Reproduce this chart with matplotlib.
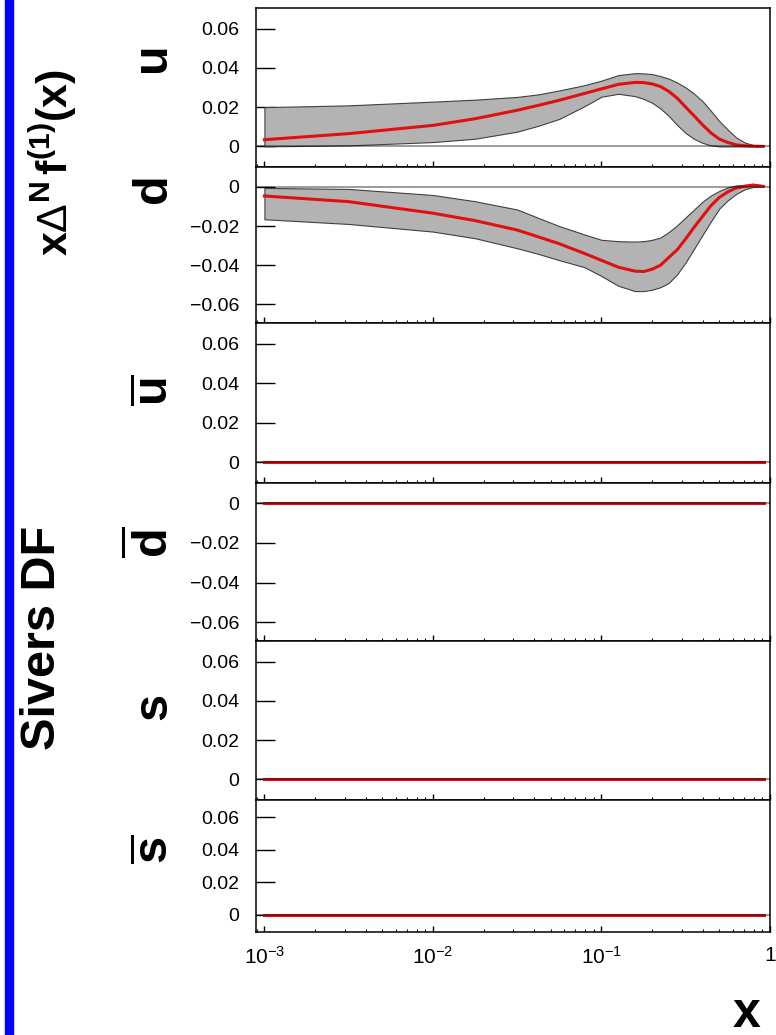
import matplotlib.pyplot as plt
import numpy as np
from matplotlib.patches import Rectangle
from matplotlib.ticker import FixedLocator, FixedFormatter, LogLocator, NullFormatter

plt.rcParams['font.family'] = 'Liberation Sans'
plt.rcParams['mathtext.fontset'] = 'custom'
plt.rcParams['mathtext.rm'] = 'Liberation Sans'
plt.rcParams['mathtext.it'] = 'Liberation Sans:italic'
plt.rcParams['mathtext.bf'] = 'Liberation Sans:bold'

# x grid of the fitted curves
x_fit = [0.001, 0.00316, 0.01, 0.0178, 0.0316, 0.0422, 0.0562, 0.0794, 0.1, 0.126,
         0.158, 0.178, 0.2, 0.224, 0.251, 0.282, 0.316, 0.355, 0.398, 0.447,
         0.501, 0.562, 0.631, 0.708, 0.794, 0.912]

# u quark: central value and error band
u_mid = [0.0034, 0.0065, 0.0107, 0.0141, 0.0184, 0.0209, 0.0235, 0.0270, 0.0293, 0.0316,
         0.0326, 0.0325, 0.0318, 0.0305, 0.0280, 0.0245, 0.0200, 0.0155, 0.0110, 0.0068,
         0.0037, 0.0020, 0.0008, 0.0003, 0.0001, 0.0]
u_hi = [0.0200, 0.0209, 0.0228, 0.0238, 0.0252, 0.0265, 0.0285, 0.0312, 0.0335, 0.0363,
        0.0373, 0.0372, 0.0368, 0.0358, 0.0345, 0.0325, 0.0300, 0.0268, 0.0230, 0.0180,
        0.0128, 0.0085, 0.0045, 0.0020, 0.0007, 0.0]
u_lo = [0.0, 0.0005, 0.0022, 0.0039, 0.0075, 0.0105, 0.0140, 0.0205, 0.0253, 0.0268,
        0.0256, 0.0242, 0.0222, 0.0193, 0.0155, 0.0108, 0.0068, 0.0038, 0.0018, 0.0005,
        0.0, 0.0, 0.0, 0.0, 0.0, 0.0]

# d quark
d_mid = [-0.0046, -0.0075, -0.0134, -0.0172, -0.0220, -0.0255, -0.0290, -0.0340, -0.0375, -0.0410,
         -0.0430, -0.0432, -0.0420, -0.0400, -0.0360, -0.0320, -0.0265, -0.0205, -0.0150, -0.0095,
         -0.0053, -0.0025, -0.0005, 0.0004, 0.0010, 0.0003]
d_hi = [-0.0005, -0.0010, -0.0041, -0.0073, -0.0115, -0.0158, -0.0200, -0.0243, -0.0270, -0.0277,
        -0.0279, -0.0277, -0.0270, -0.0258, -0.0230, -0.0195, -0.0155, -0.0115, -0.0075, -0.0043,
        -0.0020, -0.0002, 0.0008, 0.0010, 0.0010, 0.0010]
d_lo = [-0.0165, -0.0189, -0.0228, -0.0262, -0.0313, -0.0342, -0.0374, -0.0410, -0.0455, -0.0505,
        -0.0532, -0.0532, -0.0525, -0.0512, -0.0490, -0.0445, -0.0385, -0.0315, -0.0245, -0.0175,
        -0.0110, -0.0068, -0.0035, -0.0012, 0.0, 0.0005]

# sea quarks: compatible with zero
x_sea = [0.001, 0.92]
sea_zero = [0.0, 0.0]

flavours = [r'$\mathbf{u}$', r'$\mathbf{d}$', r'$\overline{\mathbf{u}}$',
            r'$\overline{\mathbf{d}}$', r'$\mathbf{s}$', r'$\overline{\mathbf{s}}$']
pos_ticks = [0, 0.02, 0.04, 0.06]
pos_labels = ['0', '0.02', '0.04', '0.06']
neg_ticks = [-0.06, -0.04, -0.02, 0]
neg_labels = ['\u22120.06', '\u22120.04', '\u22120.02', '0']
x_ticks = [1e-3, 1e-2, 1e-1, 1]
x_labels = [r'$10^{-3}$', r'$10^{-2}$', r'$10^{-1}$', '1']

panels = [
    (x_fit, u_mid, u_lo, u_hi, False),
    (x_fit, d_mid, d_lo, d_hi, True),
    (x_sea, sea_zero, sea_zero, sea_zero, False),
    (x_sea, sea_zero, sea_zero, sea_zero, True),
    (x_sea, sea_zero, sea_zero, sea_zero, False),
    (x_sea, sea_zero, sea_zero, sea_zero, False),
]

W, H = 776, 1035
fig = plt.figure(figsize=(W / 100, H / 100), dpi=100)
gs = fig.add_gridspec(6, 1, height_ratios=[159, 156, 160, 158, 159, 132], hspace=0,
                      left=256 / W, right=770 / W, top=1 - 8 / H, bottom=1 - 932 / H)

label_y = [62, 192, 390, 542, 708, 849]

for i, (xs, mid, lo, hi, neg) in enumerate(panels):
    ax = fig.add_subplot(gs[i])
    ax.fill_between(xs, lo, hi, facecolor='#b3b3b3', edgecolor='#404040', lw=0.8, zorder=2)
    ax.plot(xs, mid, color='#e01010', lw=2.2, zorder=3)
    ax.axhline(0, color='#000000', alpha=0.5, lw=1.1, zorder=4)
    ax.set_xscale('log')
    ax.set_xlim(10 ** -3.05, 1.0)
    if neg:
        ax.set_ylim(-0.0695, 0.0102)
        ax.yaxis.set_major_locator(FixedLocator(neg_ticks))
        ax.yaxis.set_major_formatter(FixedFormatter(neg_labels))
    else:
        ax.set_ylim(-0.0105, 0.0705)
        ax.yaxis.set_major_locator(FixedLocator(pos_ticks))
        ax.yaxis.set_major_formatter(FixedFormatter(pos_labels))
    ax.tick_params(axis='y', which='both', direction='in', length=14, width=1.0,
                   labelsize=14, pad=12, right=False)
    ax.xaxis.set_major_locator(FixedLocator(x_ticks))
    ax.xaxis.set_minor_locator(LogLocator(base=10, subs=np.arange(2, 10)))
    ax.xaxis.set_minor_formatter(NullFormatter())
    ax.tick_params(axis='x', which='major', direction='in', length=4, width=1.0, top=False)
    ax.tick_params(axis='x', which='minor', direction='in', length=2.5, width=0.8, top=False)
    if i == 5:
        ax.xaxis.set_major_formatter(FixedFormatter(x_labels))
        ax.tick_params(axis='x', labelsize=15, pad=10)
    else:
        ax.tick_params(axis='x', labelbottom=False)
    for sp in ax.spines.values():
        sp.set_linewidth(1.1)
    fig.text(168 / W, 1 - label_y[i] / H, flavours[i], fontsize=35, rotation=90,
             rotation_mode='anchor', ha='center', va='baseline')

# left titles
fig.text(68 / W, 1 - 162 / H,
         r'$\mathbf{x}\mathrm{\Delta}^{\mathbf{N}}\,\mathbf{f}^{\mathbf{(1)}}\mathbf{(x)}$',
         fontsize=31, rotation=90, rotation_mode='anchor', ha='center', va='baseline')
fig.text(55 / W, 1 - 638 / H, 'Sivers DF', fontsize=35, fontweight='bold', rotation=90,
         rotation_mode='anchor', ha='center', va='baseline')
fig.text(747 / W, 1 - 1027 / H, 'x', fontsize=36, fontweight='bold', ha='center', va='baseline')

fig.patches.append(Rectangle((5 / W, 0), 7.5 / W, 1, transform=fig.transFigure,
                             color='#0000ff', zorder=10))

fig.savefig('out.png', dpi=100)
